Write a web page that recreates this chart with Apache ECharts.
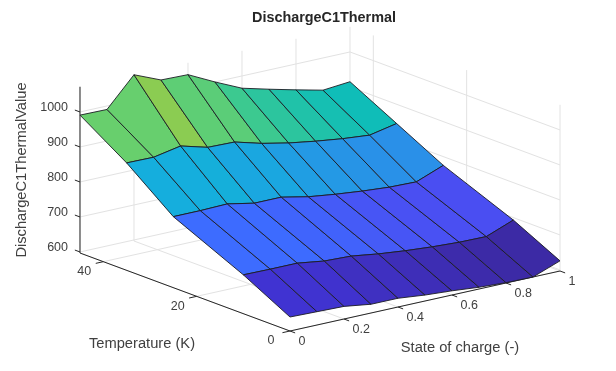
<!DOCTYPE html>
<html><head><meta charset="utf-8">
<style>html,body{margin:0;padding:0;background:#fff}#c{width:616px;height:371px}</style>
<script src="https://cdn.jsdelivr.net/npm/echarts@6/dist/echarts.min.js"></script>
</head><body><div id="c"></div>
<script>
// ---- data ----
const socValues = [0,0.1,0.2,0.3,0.4,0.5,0.6,0.7,0.8,0.9,1];
const tempValues = [0,10,25,35,45];
const zAtT0  = [637,635,633,622,622,614,609,602,598,597,626];
const zAtT10 = [708,707,707,696,693,682,674,668,664,663,693];
const zAtT25 = [800,800,802,787,787,771,761,753,747,745,775];
const zAtT35 = [904,903,918,897,895,874,858,846,836,829,845];
const zAtT45 = [991,990,1072,1040,1038,1000,965,945,926,908,915];
const zRows = [zAtT0,zAtT10,zAtT25,zAtT35,zAtT45];
const socTicks = [0,0.2,0.4,0.6,0.8,1];
const tempTicks = [0,20,40];
const zTicks = [600,700,800,900,1000];
const socLim = [0,1], tempLim = [0,45], zLim = [597,1072];
// ---- colour scale ----
const colorZ = [597,637,663,708,745,800,829,874,904,918];
const colorHex = ['#3c2aa5','#4033d2','#4a4ef2','#3d6cff','#2a90e8','#15aedd','#0fbdb8','#3cc990','#68cf6d','#8bcc52'];
function zColor(z){
  for(let k=1;k<colorZ.length;k++){
    if(z<=colorZ[k]){const t=(z-colorZ[k-1])/(colorZ[k]-colorZ[k-1]);
      return echarts.color.lerp(Math.max(0,t),[colorHex[k-1],colorHex[k]]);}
  }
  return colorHex[colorHex.length-1];
}
// ---- 3D view (orthographic) mapped onto hidden 2D value axes ----
function proj(s,t,z){return [290+270*s-4.667*t, 331-60*s-1.733*t-0.35*(z-zLim[0])];}
const GRID='#e2e2e2', AXIS='#262626', TXT='#404040', FONT='"Liberation Sans",Arial,sans-serif';

const gridSegs=[];
const S1=socLim[1],T1=tempLim[1],Z0=zLim[0],Z1=zLim[1];
socTicks.forEach(s=>{ gridSegs.push([s,T1,Z0,s,T1,Z1]); gridSegs.push([s,0,Z0,s,T1,Z0]); });
tempTicks.forEach(t=>{ gridSegs.push([S1,t,Z0,S1,t,Z1]); gridSegs.push([0,t,Z0,S1,t,Z0]); });
zTicks.forEach(z=>{ gridSegs.push([0,T1,z,S1,T1,z]); gridSegs.push([S1,0,z,S1,T1,z]); });
const axisSegs=[[0,0,Z0,S1,0,Z0],[0,0,Z0,0,T1,Z0],[0,T1,Z0,0,T1,Z1]];
socTicks.forEach(s=>axisSegs.push([s,0,Z0,s,-1.1,Z0]));
tempTicks.forEach(t=>axisSegs.push([0,t,Z0,-0.028,t,Z0]));
zTicks.forEach(z=>axisSegs.push([0,T1,z,0,T1+1.1,z]));

const cells=[];
for(let j=tempValues.length-2;j>=0;j--) for(let i=0;i<socValues.length-1;i++) cells.push([i,j]);

function segSeries(data,color,z){
  return {type:'custom',coordinateSystem:'cartesian2d',silent:true,z:z,clip:false,data:data,encode:{x:0,y:1},
    renderItem:(p,api)=>{
      const a=api.coord(proj(api.value(0),api.value(1),api.value(2)));
      const b=api.coord(proj(api.value(3),api.value(4),api.value(5)));
      return {type:'line',shape:{x1:a[0],y1:a[1],x2:b[0],y2:b[1]},style:{stroke:color,lineWidth:1}};
    }};
}
function labelSeries(data,at,dx,dy,align){
  return {type:'custom',coordinateSystem:'cartesian2d',silent:true,z:6,clip:false,data:data.map(v=>[v]),encode:{x:0},
    renderItem:(p,api)=>{
      const v=api.value(0), c=api.coord(at(v));
      return {type:'text',x:c[0]+dx,y:c[1]+dy,style:{text:String(v),fill:TXT,font:'12.5px '+FONT,align:align,verticalAlign:'middle'}};
    }};
}
const chart=echarts.init(document.getElementById('c'),null,{renderer:'canvas'});
chart.setOption({
  animation:false,backgroundColor:'#fff',
  title:{text:'DischargeC1Thermal',left:319,top:6,textAlign:'center',
    textStyle:{fontFamily:FONT,fontSize:14.4,fontWeight:'bold',color:'#262626'}},
  grid:{left:0,right:0,top:0,bottom:0},
  xAxis:{type:'value',min:0,max:616,show:false},
  yAxis:{type:'value',min:0,max:371,inverse:true,show:false},
  graphic:[
    {type:'text',x:142,y:344,style:{text:'Temperature (K)',font:'14.7px '+FONT,fill:TXT,align:'center',verticalAlign:'middle'}},
    {type:'text',x:460,y:348,style:{text:'State of charge (-)',font:'14.7px '+FONT,fill:TXT,align:'center',verticalAlign:'middle'}},
    {type:'text',x:22,y:170,rotation:Math.PI/2,style:{text:'DischargeC1ThermalValue',font:'14.7px '+FONT,fill:TXT,align:'center',verticalAlign:'middle'}}
  ],
  series:[
    segSeries(gridSegs,GRID,1),
    segSeries(axisSegs,AXIS,2),
    {type:'custom',coordinateSystem:'cartesian2d',silent:true,z:3,clip:false,data:cells,encode:{x:0,y:1},
      renderItem:(p,api)=>{
        const i=api.value(0), j=api.value(1);
        const corners=[[i,j],[i+1,j],[i+1,j+1],[i,j+1]];
        const pts=corners.map(([a,b])=>api.coord(proj(socValues[a],tempValues[b],zRows[b][a])));
        return {type:'polygon',shape:{points:pts},style:{fill:zColor(zRows[j][i]),stroke:'#1c1c24',lineWidth:0.9,lineJoin:'round'}};
      }},
    labelSeries(zTicks,z=>proj(0,T1,z),-12,-4.5,'right'),
    labelSeries(tempTicks,t=>proj(0,t,Z0),-19,10,'center'),
    labelSeries(socTicks,s=>proj(s,0,Z0),8.5,11,'left')
  ]
});
</script></body></html>
